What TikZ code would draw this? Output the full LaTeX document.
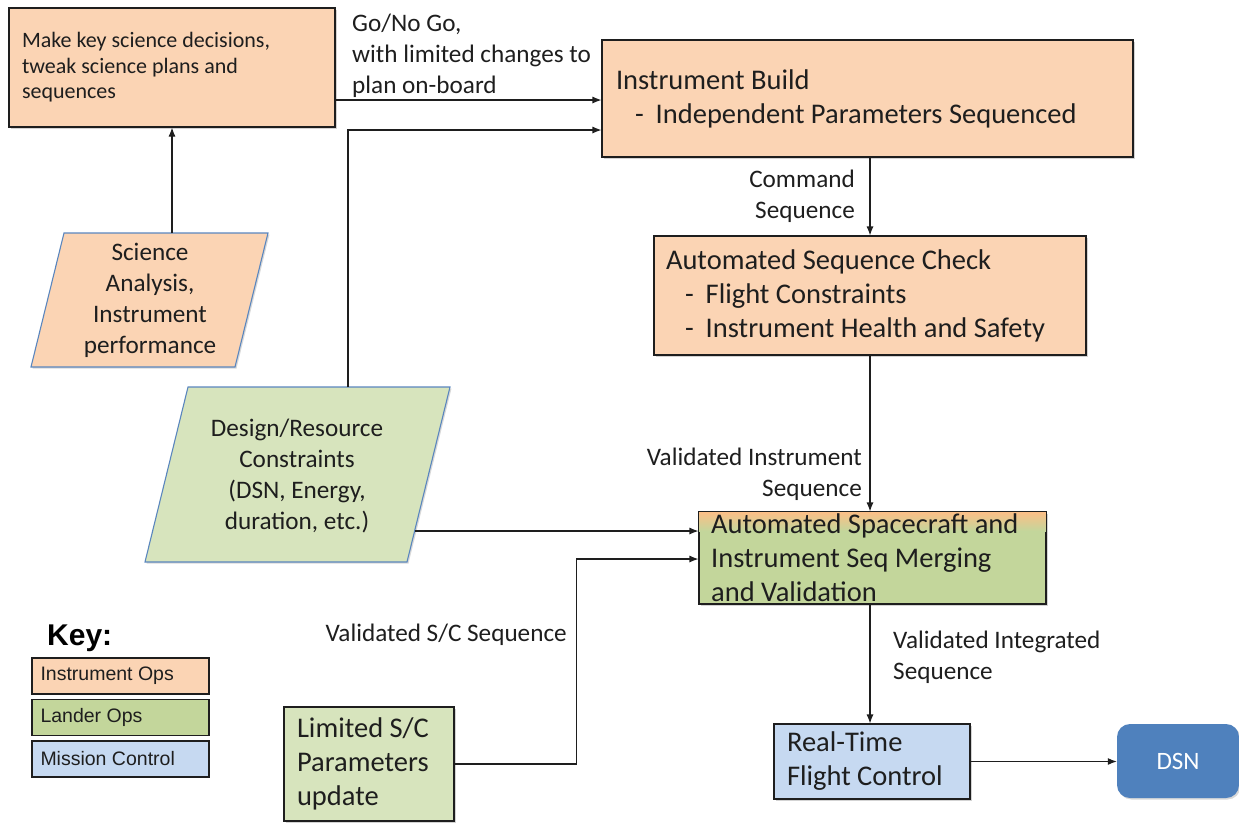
\documentclass[tikz,border=0pt]{standalone}
\usepackage{fontspec}
\setmainfont{Carlito}
\newfontfamily\arial{Liberation Sans}
\usetikzlibrary{arrows.meta,shadows,calc}

\definecolor{instr}{HTML}{FBD4B4}
\definecolor{lander}{HTML}{D7E4BD}
\definecolor{landerdk}{HTML}{C3D69B}
\definecolor{mission}{HTML}{C6D9F1}
\definecolor{dsnblue}{HTML}{4F81BD}
\definecolor{edgeblue}{HTML}{5A86BE}
\definecolor{ink}{HTML}{1E1E1E}

\tikzset{
  box/.style={draw=ink, line width=1.1pt, rectangle, align=flush left, text=ink,
    drop shadow={shadow xshift=1.5pt, shadow yshift=-1.5pt, opacity=0.35, fill=gray}},
  big/.style={font=\fontsize{28.5}{34}\selectfont},
  small/.style={font=\fontsize{22}{25.5}\selectfont},
  lbl/.style={text=ink, inner sep=0pt, font=\fontsize{25.2}{31}\selectfont},
  arr/.style={draw=ink, line width=1.1pt, -{Latex[length=9pt,width=7pt]}},
  para/.style={draw=edgeblue, line width=1.1pt,
    drop shadow={shadow xshift=1.5pt, shadow yshift=-1.5pt, opacity=0.3, fill=gray}},
  keybox/.style={draw=ink, line width=1.1pt, minimum width=177pt, minimum height=36pt,
    text width=160pt, inner xsep=8.5pt, align=flush left, text=ink,
    font=\arial\fontsize{19.5}{22}\selectfont},
}

\begin{document}
\begin{tikzpicture}[x=1pt,y=-1pt]
\useasboundingbox (0,0) rectangle (1239,823);

% ---- process boxes ----
\node[box, small, fill=instr, minimum width=326pt, minimum height=119pt,
      inner xsep=13pt, text width=300pt] (A) at (172,67.5)
  {Make key science decisions,\\tweak science plans and\\sequences};

\node[box, big, fill=instr, minimum width=531pt, minimum height=117pt,
      inner xsep=14pt, text width=503pt] (B) at (867.5,98.5)
  {Instrument Build\\\hspace*{19pt}-\hspace{12pt}Independent Parameters Sequenced};

\node[box, big, fill=instr, minimum width=432pt, minimum height=119pt,
      inner xsep=12pt, text width=408pt] (C) at (870,295.5)
  {Automated Sequence Check\\\hspace*{19pt}-\hspace{12pt}Flight Constraints\\\hspace*{19pt}-\hspace{12pt}Instrument Health and Safety};

% merging box: green with an orange fringe along its top
\node[box, fill=landerdk, minimum width=347pt, minimum height=92pt] (D) at (872.5,558) {};
\shade[top color=instr!75!orange, bottom color=landerdk]
  ([shift={(0.6pt,-0.6pt)}]D.north west) rectangle ([xshift=-0.6pt]D.east |- 0,531);
\draw[draw=ink, line width=1.1pt] (D.north west) rectangle (D.south east);
\node[big, text=ink, align=left, inner sep=0pt, anchor=west] (Dt) at (711,557.5)
  {Automated Spacecraft and\\Instrument Seq Merging\\and Validation};

\node[box, big, fill=lander, minimum width=170pt, minimum height=114pt,
      inner xsep=13pt, text width=144pt] (L) at (369,764)
  {Limited S/C\\Parameters\\update};

\node[box, big, fill=mission, minimum width=196pt, minimum height=75pt,
      inner xsep=13pt, text width=170pt] (E) at (872,761.5)
  {Real-Time\\Flight Control};

\node[fill=dsnblue, rounded corners=13pt, minimum width=122pt, minimum height=74pt,
      text=white, font=\fontsize{25}{30}\selectfont,
      drop shadow={shadow xshift=1.5pt, shadow yshift=-1.5pt, opacity=0.3, fill=gray}]
  (DSN) at (1178,761) {DSN};

% ---- input parallelograms ----
\coordinate (s1) at (64,233);  \coordinate (s2) at (268,233);
\coordinate (s3) at (235,367); \coordinate (s4) at (31,367);
\path[para, fill=instr] (s1) -- (s2) -- (s3) -- (s4) -- cycle;
\node[lbl, align=center] (S) at (150,300.5)
  {Science\\Analysis,\\Instrument\\performance};
\coordinate (Stop) at (172,233);

\coordinate (d1) at (188,387); \coordinate (d2) at (450,387);
\coordinate (d3) at (407,562); \coordinate (d4) at (145,562);
\path[para, fill=lander] (d1) -- (d2) -- (d3) -- (d4) -- cycle;
\node[lbl, align=center] (R) at (297,476)
  {Design/Resource\\Constraints\\(DSN, Energy,\\duration, etc.)};
\coordinate (Rtop) at (348,387);
\coordinate (Rright) at (415,531);

% ---- connectors ----
\draw[arr] (Stop) -- (A.south);
\draw[arr] ([yshift=-32.5pt]A.east) coordinate (a1) -- (a1 -| B.west);
\draw[arr] (Rtop) |- ([yshift=-31.5pt]B.west);
\draw[arr] (C.north |- B.south) -- (C.north);
\draw[arr] (C.south) -- (C.south |- D.north);
\draw[arr] (Rright) -- (Rright -| D.west);
\draw[arr] (L.east) -- ++(122,0) |- ([yshift=-1pt]D.west);
\draw[arr] (C.south |- D.south) -- (C.south |- E.north);
\draw[arr] (E.east) -- (DSN.west |- E.east);

% ---- connector labels ----
\node[lbl, align=left, anchor=west] (gl) at (352,56)
  {Go/No Go,\\with limited changes to\\plan on-board};
\node[lbl, align=right, anchor=east] (cl) at (855,196)
  {Command\\Sequence};
\node[lbl, align=right, anchor=east] (vl) at (862,474)
  {Validated Instrument\\Sequence};
\node[lbl, align=right, anchor=east] (sl) at (567,635)
  {Validated S/C Sequence};
\node[lbl, align=left, anchor=west] (il) at (893,657.5)
  {Validated Integrated\\Sequence};

% ---- key ----
\node[anchor=west, inner sep=0pt, font=\arial\bfseries\fontsize{30}{32}\selectfont, text=black]
  (key) at (47,638) {Key:};
\node[keybox, fill=instr]    (k1) at (120.5,676) {Instrument Ops};
\node[keybox, fill=landerdk] (k2) at (120.5,717.5) {Lander Ops};
\node[keybox, fill=mission]  (k3) at (120.5,759) {Mission Control};

\end{tikzpicture}
\end{document}
